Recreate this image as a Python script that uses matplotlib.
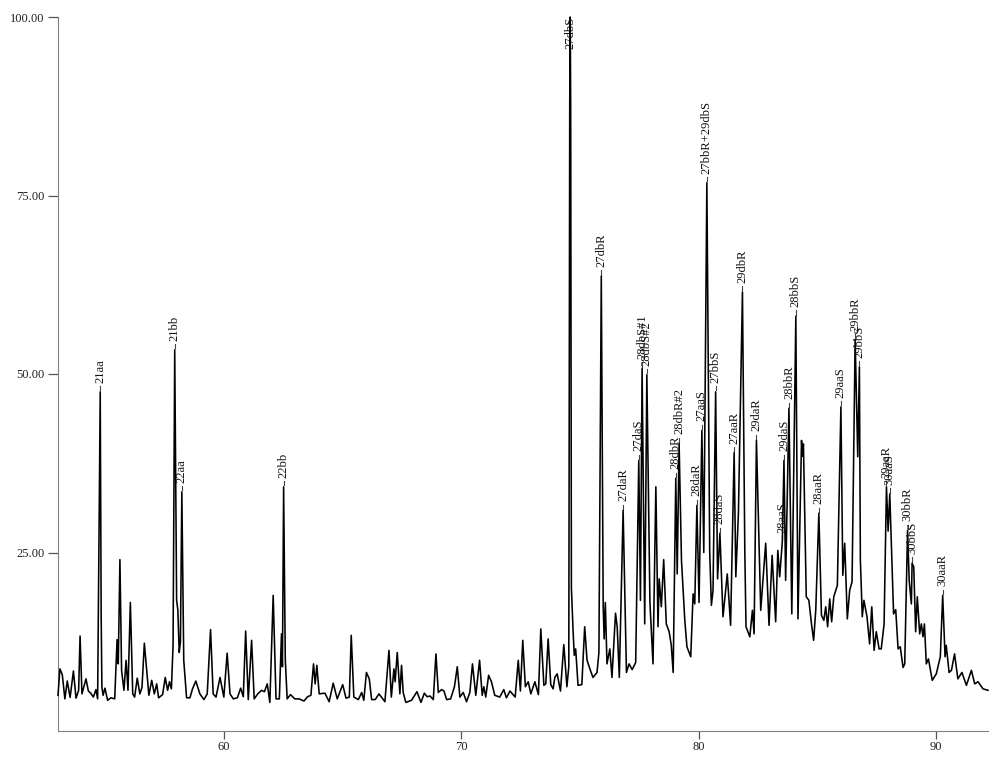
import matplotlib
matplotlib.use('Agg')
import matplotlib.pyplot as plt

plt.rcParams['font.family'] = ['Liberation Serif', 'DejaVu Serif']

# retention time / relative abundance
rt_a = [53.0, 53.08, 53.18, 53.29, 53.39, 53.51, 53.65, 53.76, 53.87, 53.93, 53.98, 54.01, 54.18, 54.28, 54.38,
        54.49, 54.6, 54.67, 54.71, 54.78, 54.82, 54.85, 54.9, 54.98, 55.09, 55.23, 55.39, 55.49, 55.54, 55.61,
        55.68, 55.78, 55.87, 55.95, 56.05, 56.15, 56.23, 56.34, 56.45, 56.54, 56.64, 56.74, 56.83, 56.95, 57.06,
        57.16, 57.24, 57.41, 57.52, 57.62, 57.7, 57.78, 57.85, 57.92, 58.0, 58.05, 58.11, 58.16, 58.22, 58.3,
        58.42, 58.56, 58.67, 58.81, 58.98, 59.15, 59.29, 59.43, 59.54, 59.66, 59.83, 59.99, 60.13, 60.25, 60.39,
        60.56, 60.7, 60.81, 60.91, 61.02, 61.16, 61.27, 61.42, 61.58, 61.7, 61.82, 61.93, 62.07, 62.19, 62.33,
        62.42, 62.46, 62.51, 62.58, 62.66, 62.8, 62.98, 63.16, 63.37, 63.52, 63.66, 63.77, 63.84, 63.91, 64.01]
ab_a = [5.0, 8.7, 7.9, 4.5, 7.0, 4.7, 8.4, 4.6, 5.7, 13.3, 8.0, 5.2, 7.3, 5.6, 5.3,
        4.75, 5.8, 4.5, 20.0, 47.5, 16.0, 6.2, 5.0, 6.0, 4.3, 4.65, 4.5, 12.8, 9.4, 24.0,
        8.5, 5.7, 9.9, 5.7, 18.0, 5.2, 4.75, 7.4, 5.2, 6.1, 12.3, 8.5, 5.0, 7.1, 5.2,
        6.6, 4.65, 5.1, 7.5, 5.7, 6.9, 5.9, 12.0, 53.4, 18.3, 17.0, 11.0, 12.5, 33.5, 9.9,
        4.65, 4.65, 5.9, 7.0, 5.2, 4.4, 5.2, 14.2, 5.2, 4.75, 7.5, 4.75, 10.9, 5.2, 4.5,
        4.65, 6.0, 4.8, 14.0, 4.4, 12.7, 4.5, 5.2, 5.7, 5.5, 6.6, 4.0, 19.0, 4.5, 4.5,
        13.6, 9.0, 34.2, 10.0, 4.5, 5.1, 4.5, 4.5, 4.2, 4.8, 5.0, 9.4, 6.6, 9.2, 5.2]

rt_b = [64.25, 64.43, 64.6, 64.77, 65.0, 65.14, 65.28, 65.36, 65.47, 65.66, 65.8, 65.89, 66.0, 66.12, 66.22,
        66.37, 66.53, 66.78, 66.95, 67.05, 67.16, 67.21, 67.3, 67.41, 67.48, 67.55, 67.66, 67.9, 68.13, 68.3,
        68.44, 68.56, 68.68, 68.82, 68.93, 69.03, 69.17, 69.27, 69.38, 69.55, 69.71, 69.83, 69.94, 70.08, 70.22,
        70.36, 70.47, 70.61, 70.77, 70.88, 70.95, 71.03, 71.15, 71.27, 71.41, 71.62, 71.79, 71.9, 72.05, 72.27,
        72.4, 72.49, 72.59, 72.7, 72.82, 72.93, 73.1, 73.25, 73.35, 73.48, 73.56, 73.66, 73.77, 73.87, 73.94,
        74.04, 74.18, 74.32, 74.45]
ab_b = [5.3, 4.1, 6.7, 4.5, 6.5, 4.6, 4.75, 13.4, 4.75, 4.4, 5.4, 4.3, 8.2, 7.3, 4.4,
        4.4, 5.2, 4.1, 11.3, 4.75, 8.7, 6.9, 11.0, 5.2, 9.2, 5.4, 4.0, 4.3, 5.5, 4.0,
        5.3, 4.8, 4.9, 4.4, 10.8, 5.4, 5.8, 5.6, 4.4, 4.5, 6.2, 9.0, 4.75, 5.4, 4.1,
        5.4, 9.4, 5.0, 9.9, 5.0, 6.2, 4.75, 7.8, 6.9, 5.0, 4.75, 5.8, 4.65, 5.6, 4.75,
        9.9, 5.6, 12.7, 6.2, 6.9, 5.2, 6.9, 5.1, 14.3, 6.4, 6.6, 12.9, 6.5, 5.9, 7.5,
        8.0, 5.6, 12.1, 6.2]

rt_c = [74.53, 74.57, 74.59, 74.61, 74.64, 74.71, 74.76, 74.82, 74.92, 75.08, 75.2, 75.3, 75.44, 75.55, 75.72, 75.8, 75.9,
        75.98, 76.02, 76.07, 76.14, 76.26, 76.35, 76.5, 76.57, 76.66, 76.82, 76.96, 77.07, 77.2, 77.35, 77.48,
        77.55, 77.62, 77.73, 77.82, 77.95, 78.08, 78.2, 78.29, 78.34, 78.43, 78.53, 78.64, 78.76, 78.85, 78.93,
        79.04, 79.1, 79.18, 79.28, 79.42, 79.51, 79.67, 79.77, 79.84, 79.93, 80.02, 80.14, 80.22, 80.35, 80.47,
        80.54, 80.61, 80.72, 80.8, 80.9, 81.03, 81.21, 81.35, 81.5, 81.57, 81.68, 81.85, 81.95, 82.0, 82.16,
        82.27, 82.34, 82.44, 82.62, 82.83, 82.97, 83.1, 83.25, 83.34, 83.42, 83.53, 83.6, 83.67, 83.81, 83.93,
        84.1, 84.19, 84.34, 84.38, 84.42, 84.54, 84.65, 84.76, 84.85, 84.94, 85.07, 85.18, 85.28, 85.36, 85.44,
        85.53, 85.61, 85.7, 85.85, 86.0, 86.08, 86.16, 86.27, 86.37, 86.47, 86.6, 86.71, 86.78, 86.82, 86.9,
        86.97, 87.1, 87.21, 87.3, 87.4, 87.49, 87.61, 87.7, 87.82, 87.92, 87.99, 88.06, 88.22, 88.31, 88.41,
        88.5, 88.62, 88.69, 88.81, 88.88, 88.97, 89.0, 89.07, 89.15, 89.22, 89.32, 89.39, 89.46, 89.52, 89.6,
        89.69, 89.85, 90.02, 90.19, 90.29, 90.39, 90.44, 90.56, 90.66, 90.79, 90.93, 91.1, 91.29, 91.5, 91.64,
        91.78, 91.99, 92.2]
ab_c = [9.0, 87.6, 100.0, 87.6, 20.0, 14.1, 10.6, 11.5, 6.4, 6.5, 14.6, 9.9, 8.5, 7.5, 8.2, 11.0, 63.7,
        17.6, 12.9, 18.0, 9.4, 11.5, 7.5, 16.5, 14.6, 7.5, 30.9, 8.2, 9.4, 8.6, 9.6, 37.9,
        18.3, 50.8, 15.0, 49.9, 18.0, 9.4, 34.2, 14.6, 21.3, 17.4, 24.0, 15.0, 13.9, 12.0, 8.2,
        35.4, 22.0, 40.3, 23.9, 15.5, 11.8, 10.4, 19.2, 17.8, 31.6, 18.0, 42.1, 25.0, 76.8, 25.0,
        17.6, 19.7, 47.5, 21.3, 27.7, 16.0, 22.0, 14.8, 39.0, 21.6, 30.5, 61.5, 25.0, 14.6, 13.2,
        16.9, 13.6, 40.7, 16.9, 26.3, 14.8, 24.6, 15.3, 25.3, 21.6, 26.5, 37.9, 21.1, 45.2, 16.4,
        58.1, 15.7, 40.7, 38.5, 40.2, 18.8, 18.3, 15.0, 12.7, 16.9, 30.5, 16.2, 15.5, 17.4, 14.6,
        18.5, 15.3, 18.8, 20.4, 45.4, 21.8, 26.3, 15.7, 19.7, 20.9, 54.8, 38.4, 51.0, 24.0, 16.0,
        18.3, 16.0, 12.2, 17.4, 11.3, 13.9, 11.5, 11.5, 15.0, 34.2, 28.0, 33.2, 16.4, 17.0, 11.5,
        11.8, 8.9, 9.4, 28.1, 21.0, 17.8, 23.5, 23.0, 13.9, 18.8, 13.6, 15.0, 13.2, 15.0, 9.4,
        10.1, 7.1, 8.0, 10.4, 19.0, 10.4, 12.0, 8.2, 8.5, 10.8, 7.3, 8.2, 6.4, 8.5, 6.6,
        6.9, 5.9, 5.7]

# labelled peaks
peak_names = ['21aa', '21bb', '22aa', '22bb', '27dbR', '27daR', '27daS', '28dbS#1', '28dbS#2', '28dbR',
              '28dbR#2', '28daR', '27aaS', '27bbR+29dbS', '27bbS', '28daS', '27aaR', '29dbR', '29daR',
              '28aaS', '29daS', '28bbR', '28bbS', '28aaR', '29aaS', '29bbR', '29bbS', '29aaR', '30aaS',
              '30bbR', '30bbS', '30aaR']
peak_rt = [54.78, 57.92, 58.22, 62.51, 75.9, 76.82, 77.48, 77.62, 77.82, 79.04,
           79.18, 79.93, 80.14, 80.35, 80.72, 80.9, 81.5, 81.85, 82.44,
           83.53, 83.6, 83.81, 84.1, 85.07, 86.0, 86.6, 86.78, 87.92, 88.06,
           88.81, 89.0, 90.29]
peak_ab = [47.5, 53.4, 33.5, 34.2, 63.7, 30.9, 37.9, 50.8, 49.9, 35.4,
           40.3, 31.6, 42.1, 76.8, 47.5, 27.7, 39.0, 61.5, 40.7,
           26.5, 37.9, 45.2, 58.1, 30.5, 45.4, 54.8, 51.0, 34.2, 33.2,
           28.1, 23.5, 19.0]
top_peak = '27dbS'
top_rt = 74.6
top_ab = 100.0

x_ticks = [60, 70, 80, 90]
y_ticks = [25, 50, 75, 100]
y_labels = ['25.00', '50.00', '75.00', '100.00']

fig = plt.figure(figsize=(10, 7.64), dpi=100)
ax = fig.add_axes([0.058, 33 / 764, 0.93, 714 / 764])

ax.plot(rt_a + rt_b + rt_c, ab_a + ab_b + ab_c, color='black', lw=1.15, clip_on=False, zorder=3)

for name, x, y in zip(peak_names, peak_rt, peak_ab):
    ax.plot([x, x], [y + 0.2, y + 0.8], color='#444444', lw=0.8)
    ax.annotate(name, (x, y), xytext=(0, 6.5), textcoords='offset points', rotation=90,
                ha='center', va='bottom', fontsize=9, color='#111111', zorder=4)

ax.annotate(top_peak, (top_rt, top_ab), xytext=(0, 0.5), textcoords='offset points', rotation=90,
            ha='center', va='top', fontsize=9, color='#111111', zorder=4)

ax.set_xlim(53, 92.2)
ax.set_ylim(0, 100)
ax.set_xticks(x_ticks)
ax.set_yticks(y_ticks)
ax.set_yticklabels(y_labels)
ax.tick_params(axis='x', length=5.8, width=0.9, color='#555555', pad=1.5, labelsize=9, labelcolor='#222222')
ax.tick_params(axis='y', length=7.2, width=0.9, color='#555555', pad=2.5, labelsize=9, labelcolor='#222222')

ax.spines['top'].set_visible(False)
ax.spines['right'].set_visible(False)
ax.spines['left'].set_color('#808080')
ax.spines['bottom'].set_color('#808080')

fig.savefig('out.png', dpi=100)
